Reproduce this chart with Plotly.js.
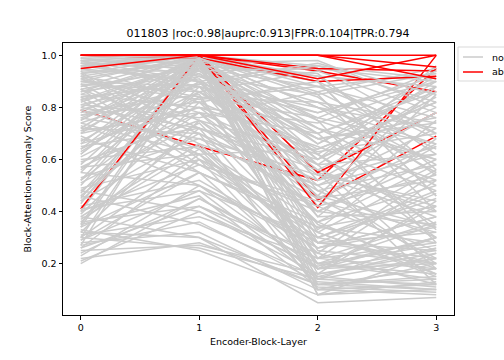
<!DOCTYPE html>
<html>
<head>
<meta charset="utf-8">
<script src="https://cdn.plot.ly/plotly-3.0.1.min.js"></script>
<style>html,body{margin:0;padding:0;background:#fff;}#chart{width:504px;height:360px;}</style>
</head>
<body>
<div id="chart"></div>
<script>
// Encoder block layers (x categories)
const layers = [0, 1, 2, 3];
const xTickLabels = ["0", "1", "2", "3"];
const yTickVals = [0.2, 0.4, 0.6, 0.8, 1.0];

// Normal samples: score per layer (one entry per sample)
const normalL0 = [
0.98,0.95,0.92,0.88,0.85,0.82,0.78,0.75,0.70,0.66,
0.62,0.58,0.55,0.50,0.45,0.40,0.35,0.30,0.27,0.96,
0.93,0.99,0.90,0.86,0.72,0.64,0.52,0.43,0.34,0.97,
0.98,0.95,0.93,0.90,0.87,0.84,0.81,0.78,0.76,0.73,
0.70,0.68,0.65,0.63,0.60,0.57,0.55,0.52,0.49,0.47,
0.44,0.42,0.39,0.37,0.34,0.32,0.29,0.26,0.24,0.97,
0.94,0.91,0.89,0.86,0.83,0.80,0.77,0.74,0.71,0.69,
0.20,0.22,0.25,0.28,0.30,0.31,0.33,0.36,0.38,0.41,
0.23,0.27,0.21,0.46,0.29,0.35,0.40,0.26,0.48,0.32,
1.00,0.99,0.98,0.97,0.96,0.95,0.94,0.92,0.91,0.89,
0.87,0.85,0.83,0.81,0.79,0.77,0.74,0.71,0.67,0.64,
1.00,0.99,0.98,0.96,0.93,0.90,0.88,0.84,0.80,0.76,
0.59,0.61,0.53,0.56,0.48,0.44,0.38,0.72,0.79,0.66,
0.92,0.87,0.57,0.51,0.46,0.36,0.30,0.62,0.83,0.75];
const normalL1 = [
1.00,1.00,0.99,1.00,1.00,0.98,1.00,1.00,0.99,1.00,
1.00,0.98,1.00,1.00,0.99,1.00,1.00,0.97,1.00,1.00,
1.00,0.99,1.00,1.00,1.00,0.99,1.00,1.00,0.98,1.00,
0.90,0.82,0.75,0.88,0.70,0.62,0.92,0.85,0.68,0.58,
0.80,0.55,0.72,0.90,0.65,0.78,0.50,0.86,0.60,0.95,
0.70,0.52,0.82,0.64,0.55,0.75,0.48,0.60,0.45,0.95,
0.60,0.78,0.66,0.93,0.55,0.72,0.88,0.62,0.95,0.50,
0.45,0.28,0.27,0.32,0.26,0.38,0.25,0.42,0.30,0.48,
0.50,0.36,0.40,0.35,0.55,0.46,0.58,0.42,0.40,0.30,
0.96,0.92,0.97,0.88,0.98,0.90,0.94,0.84,0.99,0.86,
0.96,0.80,0.91,0.76,0.94,0.82,0.89,0.78,0.92,0.86,
0.99,0.94,0.86,0.90,0.97,0.83,0.95,0.89,0.99,0.93,
0.75,0.84,0.68,0.90,0.78,0.88,0.66,0.70,0.64,0.80,
0.72,0.58,0.62,0.74,0.84,0.72,0.62,0.96,0.98,0.97];
const normalL2 = [
0.62,0.45,0.80,0.30,0.18,0.70,0.55,0.92,0.38,0.25,
0.85,0.12,0.66,0.48,0.22,0.75,0.33,0.58,0.16,0.96,
0.88,0.72,0.10,0.42,0.95,0.28,0.60,0.90,0.08,0.52,
0.55,0.40,0.62,0.35,0.50,0.28,0.78,0.20,0.45,0.32,
0.65,0.15,0.52,0.38,0.24,0.70,0.18,0.58,0.30,0.82,
0.42,0.26,0.63,0.20,0.36,0.48,0.14,0.40,0.22,0.88,
0.12,0.45,0.26,0.68,0.34,0.60,0.50,0.18,0.75,0.28,
0.20,0.12,0.16,0.10,0.14,0.22,0.08,0.18,0.12,0.30,
0.26,0.13,0.19,0.15,0.34,0.11,0.44,0.24,0.16,0.05,
0.92,0.85,0.98,0.78,0.90,0.70,0.95,0.82,0.86,0.64,
0.93,0.74,0.56,0.86,0.66,0.90,0.80,0.58,0.72,0.94,
0.80,0.62,0.54,0.97,0.76,0.88,0.68,0.96,0.84,0.60,
0.40,0.22,0.54,0.46,0.36,0.68,0.50,0.10,0.36,0.46,
0.20,0.42,0.64,0.28,0.76,0.56,0.32,0.14,0.32,0.08];
const normalL3 = [
0.35,0.22,0.55,0.48,0.30,0.88,0.12,0.62,0.75,0.20,
0.40,0.15,0.92,0.58,0.36,0.28,0.68,0.18,0.44,0.82,
0.93,0.50,0.12,0.85,0.70,0.25,0.80,0.46,0.10,0.65,
0.42,0.60,0.30,0.18,0.72,0.22,0.90,0.35,0.52,0.15,
0.48,0.26,0.78,0.40,0.55,0.33,0.20,0.62,0.45,0.58,
0.25,0.38,0.70,0.14,0.50,0.30,0.22,0.35,0.18,0.76,
0.10,0.66,0.38,0.52,0.28,0.84,0.20,0.42,0.60,0.32,
0.16,0.14,0.22,0.08,0.12,0.28,0.13,0.25,0.18,0.20,
0.34,0.10,0.30,0.11,0.42,0.09,0.32,0.12,0.24,0.07,
0.88,0.93,0.80,0.92,0.68,0.86,0.90,0.74,0.95,0.82,
0.56,0.90,0.78,0.64,0.88,0.46,0.72,0.86,0.60,0.78,
0.66,0.90,0.44,0.85,0.94,0.70,0.76,0.91,0.54,0.96,
0.65,0.52,0.38,0.88,0.16,0.74,0.62,0.20,0.58,0.34,
0.27,0.54,0.82,0.47,0.66,0.40,0.56,0.30,0.16,0.24];

// Abnormal samples: score per layer
const abnormalL0 = [0.79, 1.00, 1.00, 0.41, 1.00, 1.00, 1.00, 1.00, 0.95, 1.00, 1.00];
const abnormalL1 = [0.65, 1.00, 1.00, 1.00, 1.00, 0.99, 1.00, 1.00, 1.00, 1.00, 1.00];
const abnormalL2 = [0.52, 0.445, 0.55, 0.415, 0.94, 0.90, 0.95, 0.91, 1.00, 1.00, 1.00];
const abnormalL3 = [0.95, 0.69, 0.78, 1.00, 0.86, 0.92, 0.94, 1.00, 0.91, 0.955, 1.00];
// position in the drawing order (after which normal sample each abnormal line is drawn)
const abnormalOrder = [10, 25, 40, 70, 90, 100, 110, 120, 130, 135, 140];

const titleText = "011803 |roc:0.98|auprc:0.913|FPR:0.104|TPR:0.794";
const legendLabels = ["normal", "abnormal"];
const grayColor = "#cbcbcb";
const redColor = "#ff0000";

const traces = [];
function addNormal(i) {
  traces.push({x: layers, y: [normalL0[i], normalL1[i], normalL2[i], normalL3[i]],
    type: "scatter", mode: "lines", line: {color: grayColor, width: 1.5},
    showlegend: false, hoverinfo: "skip"});
}
function addAbnormal(j) {
  traces.push({x: layers, y: [abnormalL0[j], abnormalL1[j], abnormalL2[j], abnormalL3[j]],
    type: "scatter", mode: "lines", line: {color: redColor, width: 1.5},
    showlegend: false, hoverinfo: "skip"});
}
let a = 0;
for (let i = 0; i <= normalL0.length; i++) {
  while (a < abnormalOrder.length && abnormalOrder[a] === i) { addAbnormal(a); a++; }
  if (i < normalL0.length) addNormal(i);
}

const F = "DejaVu Sans, Arial, sans-serif";
const px2x = p => (p - 63) / 391;
const px2y = p => (315 - p) / 272;

const layout = {
  width: 504, height: 360,
  margin: {l: 63, r: 50, t: 43, b: 45},
  paper_bgcolor: "#fff", plot_bgcolor: "#fff",
  font: {family: F, size: 10, color: "#000"},
  title: {text: titleText, font: {family: F, size: 11, color: "#000"},
    x: px2x(268), xref: "paper", xanchor: "center", y: 1 - 33/360, yref: "container", yanchor: "middle"},
  xaxis: {range: [-0.15, 3.15], tickvals: layers, ticktext: xTickLabels,
    showgrid: false, zeroline: false, showline: true, mirror: true, linecolor: "#000", linewidth: 1,
    ticks: "outside", ticklen: 3.5, tickcolor: "#000", tickfont: {family: F, size: 9.5},
    title: {text: "Encoder-Block-Layer", font: {family: F, size: 9.5}, standoff: 6}},
  yaxis: {range: [0.0025, 1.0475], tickvals: yTickVals, tickformat: ".1f",
    showgrid: false, zeroline: false, showline: true, mirror: true, linecolor: "#000", linewidth: 1,
    ticks: "outside", ticklen: 3.5, tickcolor: "#000", tickfont: {family: F, size: 9.5},
    title: {text: "Block-Attention-anomaly Score", font: {family: F, size: 9.5}, standoff: 8}},
  shapes: [
    {type: "rect", xref: "paper", yref: "paper", x0: px2x(458), x1: px2x(530), y0: px2y(81), y1: px2y(47),
      line: {color: "#d9d9d9", width: 1}, fillcolor: "rgba(255,255,255,0.9)", layer: "above"},
    {type: "line", xref: "paper", yref: "paper", x0: px2x(463), x1: px2x(483), y0: px2y(57), y1: px2y(57),
      line: {color: grayColor, width: 1.5}, layer: "above"},
    {type: "line", xref: "paper", yref: "paper", x0: px2x(463), x1: px2x(483), y0: px2y(72), y1: px2y(72),
      line: {color: redColor, width: 1.5}, layer: "above"}
  ],
  annotations: [
    {text: legendLabels[0], xref: "paper", yref: "paper", x: px2x(490), y: px2y(57), xanchor: "left", yanchor: "middle",
      showarrow: false, font: {family: F, size: 9.5, color: "#000"}},
    {text: legendLabels[1], xref: "paper", yref: "paper", x: px2x(490), y: px2y(72), xanchor: "left", yanchor: "middle",
      showarrow: false, font: {family: F, size: 9.5, color: "#000"}}
  ]
};

Plotly.newPlot("chart", traces, layout, {staticPlot: true, displayModeBar: false});
</script>
</body>
</html>
